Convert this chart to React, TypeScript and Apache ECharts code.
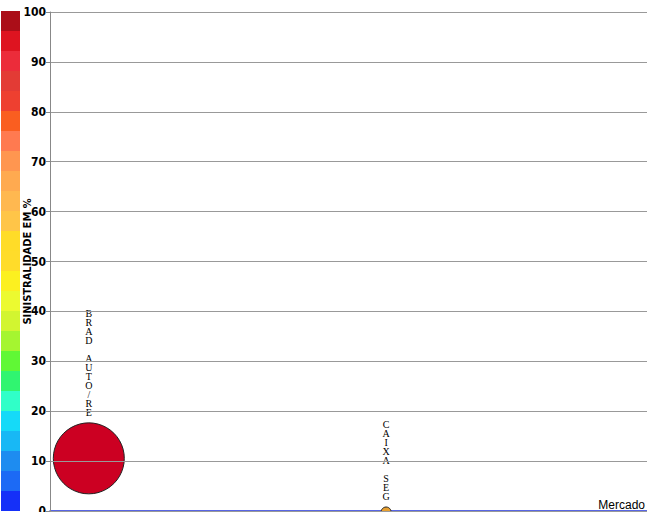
import React, { useEffect, useRef } from "react";
import * as echarts from "echarts";

const yTicks = [0, 10, 20, 30, 40, 50, 60, 70, 80, 90, 100];
const companies = ["BRAD AUTO/RE", "CAIXA SEG"];
const xValues = [6.5, 56.3];
const lossRatios = [10.55, -0.2];
const bubbleSizes = [71, 10];
const bubbleColors = ["#CC0022", "#E8A030"];
// color scale bands, from 0 upward, each 4 points wide
const bandColors = [
  "#1530F8", "#1C6AF5", "#1E8CF0", "#18B8F5", "#15DAF8",
  "#30FFC8", "#30F570", "#60F835", "#A5F530", "#D2F530",
  "#ECFA30", "#FCF020", "#FFDC2A", "#FFDC28", "#FFC548",
  "#FFB850", "#FFAA50", "#FF9650", "#FF7A50", "#FA5E20",
  "#EE4030", "#E33B35", "#EC2C3A", "#DE1420", "#AB0E18",
];
const bandWidth = 4;

const narrow = "'Liberation Sans Narrow', 'DejaVu Sans Condensed', 'Arial Narrow', Arial, sans-serif";

export default function App() {
  const ref = useRef<HTMLDivElement>(null);
  useEffect(() => {
    document.body.style.margin = "0";
    const chart = echarts.init(ref.current!, undefined, { renderer: "svg" });
    const pieces = bandColors.map((c, i) => ({
      gte: i * bandWidth,
      lt: (i + 1) * bandWidth,
      color: c,
    }));
    chart.setOption({
      animation: false,
      grid: {
        left: 50,
        right: 0,
        top: 12,
        bottom: 1,
        containLabel: false,
        outerBoundsMode: "none",
      },
      visualMap: {
        type: "piecewise",
        pieces,
        seriesIndex: 2,
        orient: "vertical",
        left: 1,
        top: 11,
        padding: 0,
        itemWidth: 19,
        itemHeight: 20,
        itemGap: 0,
        itemSymbol: "rect",
        showLabel: false,
        hoverLink: false,
        selectedMode: false,
        textGap: 0,
        z: 1,
      },
      xAxis: {
        type: "value",
        min: 0,
        max: 100,
        axisLabel: { show: false },
        axisTick: { show: false },
        splitLine: { show: false },
        axisLine: { show: true, onZero: false, lineStyle: { color: "#2233DD", width: 1.5 } },
        name: "Mercado",
        nameLocation: "end",
        nameGap: -2,
        nameTextStyle: {
          align: "right",
          verticalAlign: "bottom",
          color: "#000",
          fontSize: 12,
          fontFamily: "'Liberation Sans', Arial, sans-serif",
        },
      },
      yAxis: {
        type: "value",
        min: 0,
        max: 100,
        interval: 10,
        name: "SINISTRALIDADE EM %",
        nameLocation: "middle",
        nameGap: 17,
        nameRotate: 90,
        nameMoveOverlap: false,
        z: 5,
        nameTextStyle: {
          color: "#000",
          fontWeight: "bold",
          fontSize: 11,
          fontFamily: narrow,
        },
        axisLine: { show: true, lineStyle: { color: "#888" } },
        axisTick: { show: true, length: 4, lineStyle: { color: "#888" } },
        axisLabel: {
          color: "#000",
          fontWeight: "bold",
          fontSize: 12,
          margin: 4,
          fontFamily: narrow,
          formatter: (v: number) => (yTicks.includes(v) ? String(v) : ""),
        },
        splitLine: { show: true, lineStyle: { color: "#999", width: 1 } },
      },
      series: [
        {
          type: "scatter",
          clip: false,
          z: 3,
          data: companies.map((name, i) => ({
            name,
            value: [xValues[i], lossRatios[i]],
            symbolSize: bubbleSizes[i],
            itemStyle: {
              color: bubbleColors[i],
              borderColor: "#222",
              borderWidth: 1,
              opacity: 1,
            },
          })),
          label: {
            show: true,
            position: "top",
            distance: 5,
            formatter: (p: any) => p.name.split("").join("\n"),
            fontFamily: "'Liberation Serif', 'DejaVu Serif', serif",
            fontSize: 10,
            lineHeight: 9,
            color: "#000",
            textBorderWidth: 0,
          },
        },
        {
          type: "scatter",
          data: [],
        },
        {
          type: "scatter",
          data: [],
        },
      ],
    });
    return () => chart.dispose();
  }, []);
  return <div ref={ref} style={{ width: 647, height: 512 }} />;
}
